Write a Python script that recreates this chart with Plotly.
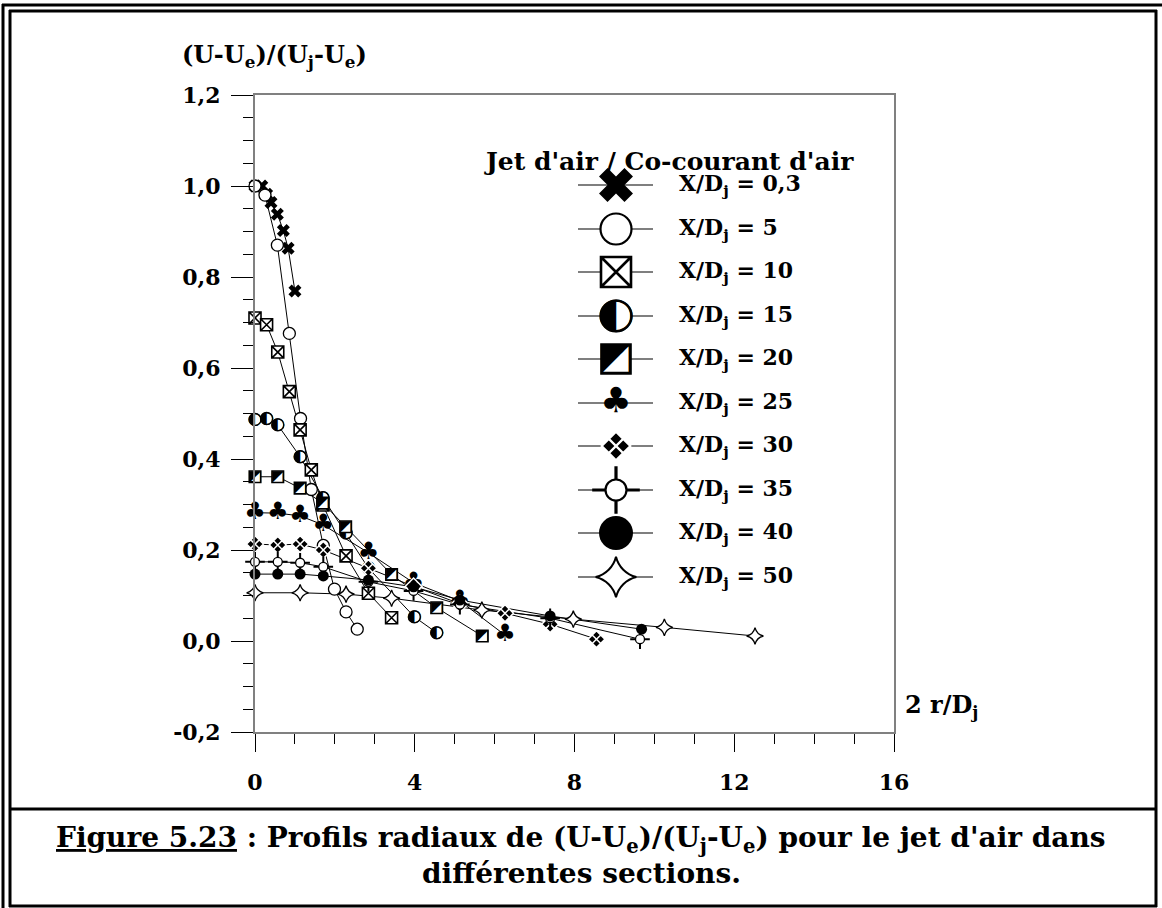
import plotly.graph_objects as go

# ---------------- data ----------------
x03 = [0, 0.17, 0.29, 0.40, 0.56, 0.71, 0.83, 1.00]
y03 = [1.0, 1.0, 0.982, 0.964, 0.938, 0.902, 0.863, 0.769]

x5 = [0, 0.25, 0.56, 0.86, 1.14, 1.41, 1.71, 1.99, 2.28, 2.56]
y5 = [1.0, 0.98, 0.87, 0.676, 0.489, 0.333, 0.21, 0.114, 0.064, 0.026]

x10 = [0, 0.29, 0.57, 0.86, 1.13, 1.41, 1.70, 2.28, 2.84, 3.42]
y10 = [0.71, 0.695, 0.635, 0.548, 0.464, 0.376, 0.299, 0.187, 0.105, 0.051]

x15 = [0, 0.29, 0.57, 1.13, 1.70, 2.28, 2.84, 3.99, 4.55]
y15 = [0.487, 0.489, 0.475, 0.405, 0.315, 0.237, 0.16, 0.053, 0.018]

x20 = [0, 0.57, 1.13, 1.70, 2.27, 3.42, 4.55, 5.69]
y20 = [0.361, 0.361, 0.336, 0.303, 0.251, 0.146, 0.073, 0.011]

x25 = [0, 0.57, 1.13, 1.71, 2.84, 3.97, 5.13, 6.26]
y25 = [0.282, 0.281, 0.275, 0.255, 0.194, 0.128, 0.088, 0.013]

x30 = [0, 0.57, 1.13, 1.71, 2.84, 3.97, 5.13, 6.26, 7.39, 8.55]
y30 = [0.213, 0.211, 0.213, 0.200, 0.160, 0.120, 0.082, 0.061, 0.037, 0.004]

x35 = [0, 0.57, 1.13, 1.71, 2.84, 3.97, 5.13, 7.39, 9.64]
y35 = [0.174, 0.174, 0.172, 0.163, 0.130, 0.110, 0.080, 0.050, 0.004]

x40 = [0, 0.57, 1.13, 1.71, 2.84, 3.97, 5.13, 7.39, 9.68]
y40 = [0.147, 0.147, 0.147, 0.143, 0.134, 0.119, 0.090, 0.055, 0.026]

x50 = [0, 1.13, 2.28, 3.42, 5.68, 7.97, 10.25, 12.52]
y50 = [0.106, 0.106, 0.103, 0.094, 0.068, 0.048, 0.030, 0.011]

series_labels = ["0,3", "5", "10", "15", "20", "25", "30", "35", "40", "50"]
y_ticks = [-0.2, 0.0, 0.2, 0.4, 0.6, 0.8, 1.0, 1.2]
y_ticktext = ["-0,2", "0,0", "0,2", "0,4", "0,6", "0,8", "1,0", "1,2"]
x_ticks = [0, 4, 8, 12, 16]

# ---------------- layout geometry (pixels) ----------------
W, H = 1162, 908
L, R, T, B = 255, 894, 95, 732  # plot area in pixels


def pxx(p):
    return (p - L) / (R - L)


def pxy(p):
    return (B - p) / (B - T)


SERIF = "DejaVu Serif"
SYM = "DejaVu Sans"
BLACK = "#000000"

fig = go.Figure()


def marker_layers(idx, big):
    if idx == 0:
        return [("m", dict(symbol="x", size=30 if big else 11.5, color=BLACK, line=dict(width=0)))]
    if idx == 1:
        return [("m", dict(symbol="circle", size=31 if big else 12, color="white",
                           line=dict(color=BLACK, width=2.2 if big else 1.3)))]
    if idx == 2:
        return [("m", dict(symbol="square-x", size=30 if big else 12, color="white",
                           line=dict(color=BLACK, width=2.6 if big else 1.6)))]
    if idx == 3:
        return [("m", dict(symbol="circle", size=31 if big else 12, color="white",
                           line=dict(color=BLACK, width=2.2 if big else 1.3))),
                ("t", dict(text="◐", size=43 if big else 16.5))]
    if idx == 4:
        return [("m", dict(symbol="square", size=29 if big else 11.5, color="white",
                           line=dict(color=BLACK, width=2.6 if big else 1.6))),
                ("t", dict(text="◩", size=39 if big else 15))]
    if idx == 5:
        return [("t", dict(text="♣", size=35 if big else 24))]
    if idx == 6:
        return [("m", dict(symbol="diamond-x", size=22 if big else 13, color=BLACK,
                           line=dict(color="white", width=2.2 if big else 1.5)))]
    if idx == 7:
        return [("m", dict(symbol="cross-thin", size=34 if big else 14,
                           line=dict(color=BLACK, width=3.2 if big else 2.0))),
                ("m", dict(symbol="circle", size=21 if big else 9, color="white",
                           line=dict(color=BLACK, width=2.2 if big else 1.3)))]
    if idx == 8:
        return [("m", dict(symbol="circle", size=34 if big else 11, color=BLACK,
                           line=dict(width=0)))]
    if idx == 9:
        return [("m", dict(symbol="star-diamond", size=29 if big else 12, color="white",
                           line=dict(color=BLACK, width=2.0 if big else 1.3)))]


all_x = [x03, x5, x10, x15, x20, x25, x30, x35, x40, x50]
all_y = [y03, y5, y10, y15, y20, y25, y30, y35, y40, y50]

# data lines
for xs, ys in zip(all_x, all_y):
    fig.add_trace(go.Scatter(x=xs, y=ys, mode="lines", line=dict(color=BLACK, width=1),
                             showlegend=False, hoverinfo="skip"))


def add_markers(xs, ys, idx, big, xaxis="x", yaxis="y"):
    for kind, spec in marker_layers(idx, big):
        if kind == "m":
            fig.add_trace(go.Scatter(x=xs, y=ys, mode="markers", marker=spec,
                                     showlegend=False, hoverinfo="skip",
                                     xaxis=xaxis, yaxis=yaxis, cliponaxis=False))
        else:
            fig.add_trace(go.Scatter(x=xs, y=ys, mode="text", text=[spec["text"]] * len(xs),
                                     textposition="middle center",
                                     textfont=dict(family=SYM, size=spec["size"], color=BLACK),
                                     showlegend=False, hoverinfo="skip",
                                     xaxis=xaxis, yaxis=yaxis, cliponaxis=False))


for i, (xs, ys) in enumerate(zip(all_x, all_y)):
    add_markers(xs, ys, i, False)

# ---------------- legend (drawn on overlay axes) ----------------
leg_rows_px = [185, 229, 272, 316, 359, 403, 446, 490, 533, 577]
for i, lab in enumerate(series_labels):
    yy = pxy(leg_rows_px[i])
    fig.add_trace(go.Scatter(x=[pxx(578), pxx(653)], y=[yy, yy], mode="lines",
                             line=dict(color=BLACK, width=1.2), showlegend=False,
                             hoverinfo="skip", xaxis="x2", yaxis="y2"))
    add_markers([pxx(616)], [yy], i, True, "x2", "y2")

annotations = []
for i, lab in enumerate(series_labels):
    annotations.append(dict(x=pxx(677), y=pxy(leg_rows_px[i]), xref="paper", yref="paper",
                            xanchor="left", yanchor="middle", showarrow=False,
                            text="<b>X/D<sub>j</sub> = %s</b>" % lab,
                            font=dict(family=SERIF, size=22, color=BLACK)))

annotations.append(dict(x=pxx(669), y=pxy(161), xref="paper", yref="paper",
                        xanchor="center", yanchor="middle", showarrow=False,
                        text="<b>Jet d'air / Co-courant d'air</b>",
                        font=dict(family=SERIF, size=25, color=BLACK)))

# axis titles
annotations.append(dict(x=pxx(180), y=pxy(56), xref="paper", yref="paper",
                        xanchor="left", yanchor="middle", showarrow=False,
                        text="<b>(U-U<sub>e</sub>)/(U<sub>j</sub>-U<sub>e</sub>)</b>",
                        font=dict(family=SERIF, size=24, color=BLACK)))
annotations.append(dict(x=pxx(903), y=pxy(706), xref="paper", yref="paper",
                        xanchor="left", yanchor="middle", showarrow=False,
                        text="<b>2 r/D<sub>j</sub></b>",
                        font=dict(family=SERIF, size=24, color=BLACK)))

# caption
annotations.append(dict(x=pxx(581), y=pxy(839), xref="paper", yref="paper",
                        xanchor="center", yanchor="middle", showarrow=False,
                        text="<b><u>Figure 5.23</u> : Profils radiaux de (U-U<sub>e</sub>)/(U<sub>j</sub>-U<sub>e</sub>) pour le jet d'air dans</b>",
                        font=dict(family=SERIF, size=28, color=BLACK)))
annotations.append(dict(x=pxx(581), y=pxy(874), xref="paper", yref="paper",
                        xanchor="center", yanchor="middle", showarrow=False,
                        text="<b>différentes sections.</b>",
                        font=dict(family=SERIF, size=28, color=BLACK)))

# frame shapes
shapes = []


def hline(y, x0, x1, w=3):
    shapes.append(dict(type="line", xref="paper", yref="paper", x0=pxx(x0), x1=pxx(x1),
                       y0=pxy(y), y1=pxy(y), line=dict(color=BLACK, width=w)))


def vline(x, y0, y1, w=3):
    shapes.append(dict(type="line", xref="paper", yref="paper", x0=pxx(x), x1=pxx(x),
                       y0=pxy(y0), y1=pxy(y1), line=dict(color=BLACK, width=w)))


hline(5, 2, 1162, 3)
vline(3, 4, 908, 3)
hline(11, 9, 1157, 3)
vline(10, 10, 907, 3)
vline(1156, 10, 907, 3)
hline(906, 9, 1157, 3)
hline(809, 9, 1157, 3)

fig.update_layout(
    width=W, height=H,
    margin=dict(l=L, r=W - R, t=T, b=H - B, pad=0),
    paper_bgcolor="white", plot_bgcolor="white",
    showlegend=False,
    annotations=annotations,
    shapes=shapes,
    xaxis=dict(range=[0, 16], tickvals=x_ticks, ticktext=[str(v) for v in x_ticks],
               ticks="outside", ticklen=18, tickwidth=1, tickcolor=BLACK,
               minor=dict(dtick=1, ticklen=10, ticks="outside", tickcolor=BLACK, tickwidth=1),
               showline=True, linecolor="#808080", linewidth=2, mirror=True,
               showgrid=False, zeroline=False, ticklabelstandoff=12,
               tickfont=dict(family=SERIF, size=22, color=BLACK, weight="bold")),
    yaxis=dict(range=[-0.2, 1.2], tickvals=y_ticks, ticktext=y_ticktext,
               ticks="outside", ticklen=22, tickwidth=1, tickcolor=BLACK,
               minor=dict(dtick=0.05, ticklen=10, ticks="outside", tickcolor=BLACK, tickwidth=1),
               showline=True, linecolor="#808080", linewidth=2, mirror=True,
               showgrid=False, zeroline=False, ticklabelstandoff=6,
               tickfont=dict(family=SERIF, size=22, color=BLACK, weight="bold")),
    xaxis2=dict(range=[0, 1], overlaying="x", visible=False, fixedrange=True),
    yaxis2=dict(range=[0, 1], overlaying="y", visible=False, fixedrange=True),
)

fig.write_html("out.html", config={"displayModeBar": False},
               post_script="document.body.style.margin='0';")
